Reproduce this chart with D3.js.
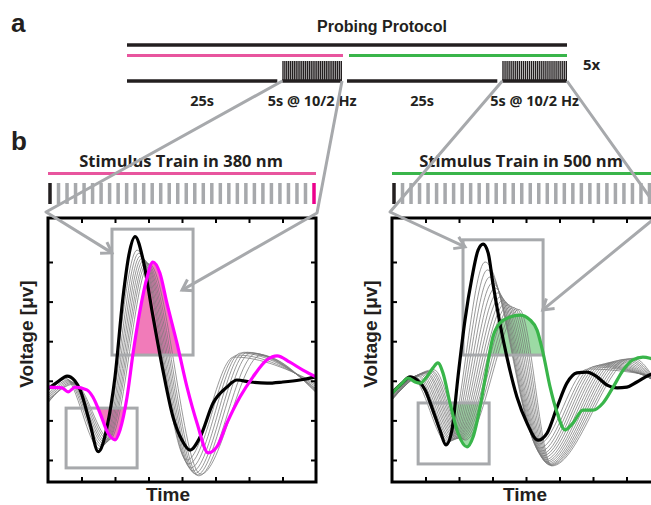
<!DOCTYPE html>
<html>
<head>
<meta charset="utf-8">
<script src="https://cdn.jsdelivr.net/npm/d3@7"></script>
<style>
	body { margin: 0; background: #fff; }
	svg { display: block; }
</style>
</head>
<body>
<script>
(function () {
	"use strict";

	var W = 651, H = 505;
	var INK = "#231f20", PINK = "#e8559e", MAGENTA = "#ff00ff", GREEN = "#39b54a", GREY = "#a7a9ac";
	var TITLE_FONT = "'Open Sans', sans-serif";
	var AXIS_FONT = "'Liberation Sans', Arial, sans-serif";

	// ---- panel a : probing protocol
	var protoLabels = ["25s", "5s @ 10/2 Hz", "25s", "5s @ 10/2 Hz"];
	var protoKinds = ["rest", "stim", "rest", "stim"];
	var protoWeights = [2.4, 1, 2.4, 1];
	var pulseCount = 32;

	// ---- panel b : ERG traces, time in ticks (0..8), voltage in ticks (0..5)
	var xTickVals = [1, 2, 3, 4, 5, 6, 7];
	var yTickVals = [0, 1, 2, 3, 4, 5];

	var blackL = [[0, 1.8], [0.3, 1.98], [0.57, 2.12], [0.8, 2.0], [0.96, 1.77], [1.25, 0.93], [1.5, 0.21],
		[1.76, 0.83], [2.0, 2.1], [2.24, 4.12], [2.42, 5.2], [2.6, 5.64], [2.84, 5.05], [3.1, 3.79],
		[3.43, 2.27], [3.73, 1.09], [4.0, 0.5], [4.24, 0.25], [4.54, 0.58], [4.93, 1.44], [5.34, 1.84],
		[5.64, 2.02], [6.03, 1.97], [6.54, 1.94], [7.01, 1.97], [7.52, 2.02], [8.0, 2.1]];
	var pinkL = [[0, 1.84], [0.42, 1.82], [0.6, 1.72], [0.81, 1.84], [1.16, 1.77], [1.34, 1.59], [1.55, 1.19],
		[1.79, 0.68], [2.0, 0.51], [2.15, 0.76], [2.36, 1.59], [2.54, 2.7], [2.75, 3.79], [2.96, 4.62],
		[3.13, 5.0], [3.34, 4.72], [3.55, 3.96], [3.85, 2.95], [4.15, 1.84], [4.45, 0.93], [4.78, 0.18],
		[5.04, 0.33], [5.34, 0.93], [5.73, 1.59], [6.12, 2.1], [6.54, 2.53], [6.84, 2.63], [7.22, 2.47],
		[7.61, 2.27], [8.0, 2.1]];

	var grayLStart = [1.75, 1.65, 1.6, 1.55, 1.5, 1.45, 1.45, 1.5];
	var grayLHump = [[0.5, 2.08], [0.55, 2.05], [0.6, 2.02], [0.64, 2.0], [0.68, 1.98], [0.72, 1.96], [0.76, 1.94], [0.8, 1.92]];
	var grayLTrough1 = [[1.55, 0.28], [1.6, 0.33], [1.64, 0.36], [1.68, 0.4], [1.72, 0.43], [1.76, 0.46], [1.8, 0.5], [1.85, 0.52]];
	var grayLPeak = [[2.66, 5.3], [2.71, 5.22], [2.76, 5.15], [2.81, 5.1], [2.86, 5.05], [2.91, 5.0], [2.96, 4.97], [3.02, 4.95]];
	var grayLTrough2 = [[4.15, 0.0], [4.2, -0.1], [4.26, -0.2], [4.32, -0.28], [4.38, -0.34], [4.44, -0.38], [4.5, -0.4], [4.56, -0.36]];
	var grayLBump = [[5.55, 2.6], [5.65, 2.65], [5.75, 2.7], [5.85, 2.72], [5.95, 2.72], [6.05, 2.7], [6.2, 2.68], [6.35, 2.64]];
	var grayLEnd = [1.95, 1.9, 1.85, 1.8, 1.78, 1.75, 1.72, 1.7];

	var blackR = [[0, 1.7], [0.3, 1.94], [0.54, 2.1], [0.75, 2.02], [0.99, 1.77], [1.22, 1.26], [1.43, 0.76],
		[1.61, 0.38], [1.79, 0.76], [1.97, 2.1], [2.18, 3.54], [2.39, 4.62], [2.57, 5.3], [2.72, 5.45],
		[2.87, 5.23], [3.01, 4.47], [3.22, 3.46], [3.43, 2.6], [3.73, 1.59], [4.03, 0.93], [4.36, 0.5],
		[4.63, 0.68], [4.93, 1.34], [5.22, 1.94], [5.52, 2.2], [5.82, 2.22], [6.12, 2.1], [6.42, 1.89],
		[6.72, 1.82], [7.01, 1.84], [7.31, 1.97], [7.7, 2.15], [8.0, 2.22]];
	var greenR = [[0, 1.68], [0.3, 1.94], [0.48, 2.07], [0.69, 1.97], [0.84, 1.94], [1.04, 2.1], [1.22, 2.32],
		[1.37, 2.45], [1.52, 2.2], [1.73, 1.44], [1.97, 0.68], [2.24, 0.33], [2.42, 0.58], [2.63, 1.34],
		[2.84, 2.35], [3.01, 3.1], [3.22, 3.46], [3.52, 3.61], [3.82, 3.66], [4.12, 3.54], [4.33, 3.28],
		[4.51, 2.7], [4.72, 1.84], [4.93, 1.19], [5.16, 0.76], [5.4, 0.93], [5.7, 1.26], [6.0, 1.26],
		[6.3, 1.44], [6.6, 1.84], [6.9, 2.27], [7.19, 2.53], [7.49, 2.6], [7.7, 2.57], [8.0, 2.45]];

	var grayRStart = [1.68, 1.65, 1.62, 1.6, 1.58, 1.56, 1.55, 1.54, 1.53, 1.52, 1.52, 1.53, 1.54, 1.55];
	var grayRHump = [[0.6, 2.08], [0.65, 2.1], [0.7, 2.1], [0.75, 2.12], [0.8, 2.13], [0.85, 2.15], [0.9, 2.16],
		[0.95, 2.18], [1.0, 2.2], [1.05, 2.2], [1.1, 2.22], [1.15, 2.24], [1.2, 2.25], [1.25, 2.28]];
	var grayRTrough1 = [[1.66, 0.42], [1.7, 0.45], [1.74, 0.47], [1.78, 0.49], [1.82, 0.5], [1.86, 0.52], [1.9, 0.53],
		[1.94, 0.54], [1.98, 0.55], [2.02, 0.55], [2.06, 0.55], [2.1, 0.54], [2.14, 0.52], [2.18, 0.5]];
	var grayRPeak = [[2.78, 5.0], [2.85, 4.8], [2.92, 4.62], [3.0, 4.47], [3.08, 4.34], [3.16, 4.22], [3.24, 4.12],
		[3.32, 4.04], [3.4, 3.97], [3.48, 3.92], [3.56, 3.88], [3.64, 3.85], [3.72, 3.82], [3.8, 3.8]];
	var grayRTrough2 = [[4.38, 0.4], [4.41, 0.3], [4.44, 0.22], [4.47, 0.15], [4.5, 0.1], [4.53, 0.05], [4.56, 0.0],
		[4.59, -0.04], [4.62, -0.07], [4.65, -0.1], [4.68, -0.12], [4.71, -0.13], [4.74, -0.14], [4.77, -0.15]];
	var grayRBump = [[5.85, 2.3], [6.0, 2.35], [6.1, 2.38], [6.2, 2.4], [6.3, 2.42], [6.4, 2.44], [6.5, 2.46],
		[6.6, 2.48], [6.7, 2.5], [6.8, 2.52], [6.9, 2.54], [7.0, 2.55], [7.1, 2.56], [7.2, 2.57]];
	var grayREnd = [2.1, 2.05, 2.0, 1.97, 1.94, 1.92, 1.9, 1.88, 1.86, 1.85, 1.84, 1.83, 1.82, 1.8];

	// zoom boxes [t0, t1, v0, v1], the first one is filled down to v0, the second up to v1
	var boxesL = [[1.91, 4.33, 2.65, 5.83], [0.54, 2.66, -0.2, 1.31]];
	var boxesR = [[2.12, 4.51, 2.65, 5.56], [0.78, 2.9, -0.1, 1.44]];
	// arrow tips, one per connector
	var tipsL = [[1.91, 5.23], [4.0, 4.29]];
	var tipsR = [[2.18, 5.38], [4.5, 3.79]];

	function grayTraces(start, hump, tr1, peak, tr2, bump, end) {
		return start.map(function (s, i) {
			return [[0, s], hump[i], tr1[i], peak[i], tr2[i], bump[i], [8, end[i]]];
		});
	}

	var svg = d3.select("body").append("svg")
		.attr("width", W)
		.attr("height", H);

	var defs = svg.append("defs");
	defs.append("marker")
		.attr("id", "arrow")
		.attr("markerUnits", "userSpaceOnUse")
		.attr("viewBox", "-14 -9 17 18")
		.attr("markerWidth", 17)
		.attr("markerHeight", 18)
		.attr("refX", 0)
		.attr("refY", 0)
		.attr("orient", "auto")
		.append("path")
		.attr("d", "M-10,-6.5L0,0L-10,6.5")
		.attr("fill", "none")
		.attr("stroke", GREY)
		.attr("stroke-width", 3);

	// ---------------- panel a
	svg.append("text").attr("x", 11).attr("y", 32)
		.style("font", "bold 26px " + AXIS_FONT).attr("fill", INK).text("a");

	svg.append("text").attr("x", 382).attr("y", 32).attr("text-anchor", "middle")
		.style("font", "bold 16px " + AXIS_FONT).attr("fill", INK).text("Probing Protocol");

	var cum = [0];
	protoWeights.forEach(function (w) { cum.push(cum[cum.length - 1] + w); });
	var protoX = d3.scaleLinear().domain([0, cum[cum.length - 1]]).range([127, 567]);
	var segs = protoLabels.map(function (lab, i) {
		return {
			label: lab,
			kind: protoKinds[i],
			x0: protoX(cum[i]),
			x1: protoX(cum[i + 1]) - (i < protoLabels.length - 1 ? 5 : 0)
		};
	});

	var pa = svg.append("g");
	pa.append("line").attr("x1", segs[0].x0).attr("x2", segs[3].x1).attr("y1", 45).attr("y2", 45)
		.attr("stroke", INK).attr("stroke-width", 3.5);
	pa.append("line").attr("x1", segs[0].x0).attr("x2", segs[1].x1 + 1).attr("y1", 55.5).attr("y2", 55.5)
		.attr("stroke", PINK).attr("stroke-width", 3);
	pa.append("line").attr("x1", segs[2].x0 + 2).attr("x2", segs[3].x1).attr("y1", 55.5).attr("y2", 55.5)
		.attr("stroke", GREEN).attr("stroke-width", 3);

	pa.selectAll(".seg").data(segs).enter().append("line")
		.attr("class", "seg")
		.attr("x1", function (d) { return d.x0; })
		.attr("x2", function (d) { return d.x1; })
		.attr("y1", 81).attr("y2", 81)
		.attr("stroke", INK).attr("stroke-width", 3.5);

	pa.selectAll(".lab").data(segs).enter().append("text")
		.attr("class", "lab")
		.attr("x", function (d) { return (d.x0 + d.x1) / 2; })
		.attr("y", 106)
		.attr("text-anchor", "middle")
		.style("font", "bold 14.5px " + TITLE_FONT)
		.attr("fill", INK)
		.text(function (d) { return d.label; });

	var stimSegs = segs.filter(function (d) { return d.kind === "stim"; });
	stimSegs.forEach(function (s) {
		var px = d3.scaleLinear().domain([0, pulseCount - 1]).range([s.x0 + 0.7, s.x1 - 0.7]);
		pa.append("g").selectAll("line").data(d3.range(pulseCount)).enter().append("line")
			.attr("x1", function (k) { return px(k); })
			.attr("x2", function (k) { return px(k); })
			.attr("y1", 61).attr("y2", 80)
			.attr("stroke", INK).attr("stroke-width", 1.4);
	});

	pa.append("text").attr("x", 583).attr("y", 70)
		.style("font", "bold 15px " + TITLE_FONT).attr("fill", INK).text("5x");

	// ---------------- panel b
	svg.append("text").attr("x", 11).attr("y", 150)
		.style("font", "bold 26px " + AXIS_FONT).attr("fill", INK).text("b");

	var FRAME_TOP = 218, FRAME_BOTTOM = 482, FRAME_W = 268;
	var y = d3.scaleLinear().domain([-0.556, 6.111]).range([FRAME_BOTTOM, FRAME_TOP]);

	var panels = [
		{ ox: 48, titleX: 181, timeX: 168, title: "Stimulus Train in 380 nm", line: PINK, lastBar: "#ec008c",
			trace: MAGENTA, fill: "#ee5aa8", fillOp: 0.8, black: blackL, colored: pinkL,
			grays: grayTraces(grayLStart, grayLHump, grayLTrough1, grayLPeak, grayLTrough2, grayLBump, grayLEnd),
			boxes: boxesL, tips: tipsL, stim: stimSegs[0] },
		{ ox: 392, titleX: 521, timeX: 525, title: "Stimulus Train in 500 nm", line: GREEN, lastBar: GREEN,
			trace: GREEN, fill: GREEN, fillOp: 0.5, black: blackR, colored: greenR,
			grays: grayTraces(grayRStart, grayRHump, grayRTrough1, grayRPeak, grayRTrough2, grayRBump, grayREnd),
			boxes: boxesR, tips: tipsR, stim: stimSegs[1] }
	];

	var arrowLayer = [];

	panels.forEach(function (p, pi) {
		var x = d3.scaleLinear().domain([0, 8]).range([p.ox, p.ox + FRAME_W]);
		var g = svg.append("g");

		// title, colour bar and stimulus train
		g.append("text").attr("x", p.titleX).attr("y", 167).attr("text-anchor", "middle")
			.style("font", "bold 16.5px " + TITLE_FONT).attr("fill", INK).text(p.title);
		g.append("line").attr("x1", p.ox).attr("x2", p.ox + FRAME_W).attr("y1", 173.5).attr("y2", 173.5)
			.attr("stroke", p.line).attr("stroke-width", 3.2);

		var bx = d3.scaleLinear().domain([0, pulseCount - 1]).range([p.ox + 2, p.ox + FRAME_W - 2]);
		g.append("g").selectAll("rect").data(d3.range(pulseCount)).enter().append("rect")
			.attr("x", function (k) { return bx(k) - 1.75; })
			.attr("y", 183)
			.attr("width", 3.5)
			.attr("height", 21)
			.attr("fill", function (k) { return k === 0 ? INK : (k === pulseCount - 1 ? p.lastBar : GREY); });

		// clip for traces
		var clipId = "frame" + pi;
		defs.append("clipPath").attr("id", clipId).append("rect")
			.attr("x", p.ox).attr("y", FRAME_TOP).attr("width", FRAME_W).attr("height", FRAME_BOTTOM - FRAME_TOP);

		var plot = g.append("g").attr("clip-path", "url(#" + clipId + ")");
		var line = d3.line()
			.x(function (d) { return x(d[0]); })
			.y(function (d) { return y(d[1]); })
			.curve(d3.curveMonotoneX);

		// shaded parts of the coloured trace inside the zoom boxes
		p.boxes.forEach(function (b, bi) {
			var id = "box" + pi + "_" + bi;
			defs.append("clipPath").attr("id", id).append("rect")
				.attr("x", x(b[0])).attr("y", y(b[3]))
				.attr("width", x(b[1]) - x(b[0])).attr("height", y(b[2]) - y(b[3]));
			var edge = bi === 0 ? b[2] : b[3];
			var area = d3.area()
				.x(function (d) { return x(d[0]); })
				.y0(y(edge))
				.y1(function (d) { return y(d[1]); })
				.curve(d3.curveMonotoneX);
			plot.append("path")
				.attr("clip-path", "url(#" + id + ")")
				.attr("d", area(p.colored))
				.attr("fill", p.fill)
				.attr("fill-opacity", p.fillOp);
		});

		plot.append("g").selectAll("path").data(p.grays).enter().append("path")
			.attr("d", line)
			.attr("fill", "none")
			.attr("stroke", "#777")
			.attr("stroke-width", 0.75);

		plot.selectAll(".box").data(p.boxes).enter().append("rect")
			.attr("class", "box")
			.attr("x", function (b) { return x(b[0]); })
			.attr("y", function (b) { return y(b[3]); })
			.attr("width", function (b) { return x(b[1]) - x(b[0]); })
			.attr("height", function (b) { return y(b[2]) - y(b[3]); })
			.attr("fill", "none")
			.attr("stroke", GREY)
			.attr("stroke-width", 3);

		plot.append("path").attr("d", line(p.black))
			.attr("fill", "none").attr("stroke", "#000").attr("stroke-width", 3.2).attr("stroke-linejoin", "round");
		plot.append("path").attr("d", line(p.colored))
			.attr("fill", "none").attr("stroke", p.trace).attr("stroke-width", 3.2).attr("stroke-linejoin", "round");

		// frame with inward ticks
		function tickStyle(sel) {
			sel.select(".domain").remove();
			sel.selectAll(".tick line").attr("stroke", "#000").attr("stroke-width", 2);
			sel.selectAll(".tick text").remove();
		}
		g.append("g").attr("transform", "translate(0," + FRAME_TOP + ")")
			.call(d3.axisBottom(x).tickValues(xTickVals).tickSize(5).tickFormat("")).call(tickStyle);
		g.append("g").attr("transform", "translate(0," + FRAME_BOTTOM + ")")
			.call(d3.axisTop(x).tickValues(xTickVals).tickSize(5).tickFormat("")).call(tickStyle);
		g.append("g").attr("transform", "translate(" + p.ox + ",0)")
			.call(d3.axisRight(y).tickValues(yTickVals).tickSize(5).tickFormat("")).call(tickStyle);
		g.append("g").attr("transform", "translate(" + (p.ox + FRAME_W) + ",0)")
			.call(d3.axisLeft(y).tickValues(yTickVals).tickSize(5).tickFormat("")).call(tickStyle);
		g.append("rect")
			.attr("x", p.ox).attr("y", FRAME_TOP)
			.attr("width", FRAME_W).attr("height", FRAME_BOTTOM - FRAME_TOP)
			.attr("fill", "none").attr("stroke", "#000").attr("stroke-width", 3);

		g.append("text")
			.attr("transform", "translate(" + (p.ox - 15) + ",334) rotate(-90)")
			.attr("text-anchor", "middle")
			.style("font", "bold 19px " + AXIS_FONT)
			.attr("fill", INK)
			.text("Voltage [\u03bcv]");
		g.append("text").attr("x", p.timeX).attr("y", 501).attr("text-anchor", "middle")
			.style("font", "bold 19px " + AXIS_FONT).attr("fill", INK).text("Time");

		// connectors from the protocol block to the zoom boxes
		var starts = [[p.stim.x0, 81], [p.stim.x1, 81]];
		var corners = [[p.ox - 2, 212], [p.ox + FRAME_W + 1, 213]];
		starts.forEach(function (s, k) {
			arrowLayer.push([s, corners[k], [x(p.tips[k][0]), y(p.tips[k][1])]]);
		});
	});

	svg.append("g").selectAll("path").data(arrowLayer).enter().append("path")
		.attr("d", d3.line())
		.attr("fill", "none")
		.attr("stroke", GREY)
		.attr("stroke-width", 3)
		.attr("stroke-linejoin", "round")
		.attr("marker-end", "url(#arrow)");
})();
</script>
</body>
</html>
